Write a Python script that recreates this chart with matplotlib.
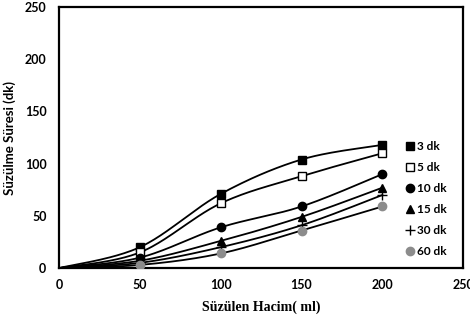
import numpy as np
import matplotlib
matplotlib.use("Agg")
import matplotlib.pyplot as plt

# veriler
hacim = [0, 50, 100, 150, 200]
sure_3dk = [0, 20, 71, 104, 118]
sure_5dk = [0, 15, 62, 88, 110]
sure_10dk = [0, 10, 39, 59, 90]
sure_15dk = [0, 7, 26, 49, 77]
sure_30dk = [0, 5, 20, 41, 70]
sure_60dk = [0, 3, 14, 36, 59]
etiketler = ["3 dk", "5 dk", "10 dk", "15 dk", "30 dk", "60 dk"]


def excel_smooth(x, y, n=40):
    # Excel "duzgunlestirilmis cizgi": Bezier, kontrol noktalari komsu noktalardan
    p = np.column_stack([x, y]).astype(float)
    p = np.vstack([p[0], p, p[-1]])
    t = np.linspace(0, 1, n)[:, None]
    parcalar = []
    for i in range(1, len(p) - 2):
        p0, p1, p2, p3 = p[i - 1], p[i], p[i + 1], p[i + 2]
        c1 = p1 + (p2 - p0) / 6
        c2 = p2 - (p3 - p1) / 6
        b = ((1 - t) ** 3 * p1 + 3 * (1 - t) ** 2 * t * c1
             + 3 * (1 - t) * t ** 2 * c2 + t ** 3 * p2)
        parcalar.append(b)
    b = np.vstack(parcalar)
    return b[:, 0], b[:, 1]


fig = plt.figure(figsize=(4.7, 3.23), dpi=100)
ax = fig.add_axes([0.1255, 0.170, 0.86, 0.808])

seriler = [sure_3dk, sure_5dk, sure_10dk, sure_15dk, sure_30dk, sure_60dk]
stiller = [
    dict(marker="s", mec="black", mfc="black", ms=6),
    dict(marker="s", mec="black", mfc="white", ms=6),
    dict(marker="o", mec="black", mfc="black", ms=6),
    dict(marker="^", mec="black", mfc="black", ms=6),
    dict(marker="+", mec="black", mfc="black", ms=7, mew=1),
    dict(marker="o", mec="#8c8c8c", mfc="#8c8c8c", ms=6),
]

handles = []
for s, st in zip(seriler, stiller):
    cx, cy = excel_smooth(hacim, s)
    ax.plot(cx, cy, color="black", lw=1.3, zorder=2)
    ax.plot(hacim[1:], s[1:], ls="none", zorder=3, **st)
    h, = ax.plot([], [], ls="none", **st)
    handles.append(h)

ax.set_xlim(0, 250)
ax.set_ylim(0, 250)
ax.set_xticks([0, 50, 100, 150, 200, 250])
ax.set_yticks([0, 50, 100, 150, 200, 250])
ax.tick_params(length=0, labelsize=9)
ax.tick_params(axis="x", pad=8)
ax.tick_params(axis="y", pad=9)
for lab in ax.get_xticklabels() + ax.get_yticklabels():
    lab.set_fontweight("bold")
    lab.set_family("Lato")
for sp in ax.spines.values():
    sp.set_linewidth(1.6)

ax.set_xlabel("Süzülen Hacim( ml)", family="Liberation Serif",
              fontweight="bold", fontsize=10, labelpad=7)
ax.set_ylabel("Süzülme Süresi (dk)", family="Lato",
              fontweight="bold", fontsize=9.5, labelpad=6)

ax.legend(handles, etiketler, loc="center right", bbox_to_anchor=(0.985, 0.265),
          frameon=False, handlelength=0.6, handletextpad=0.3,
          labelspacing=0.85, prop=dict(family="Lato", weight="bold", size=8.5))

fig.savefig("out.png", dpi=100)
